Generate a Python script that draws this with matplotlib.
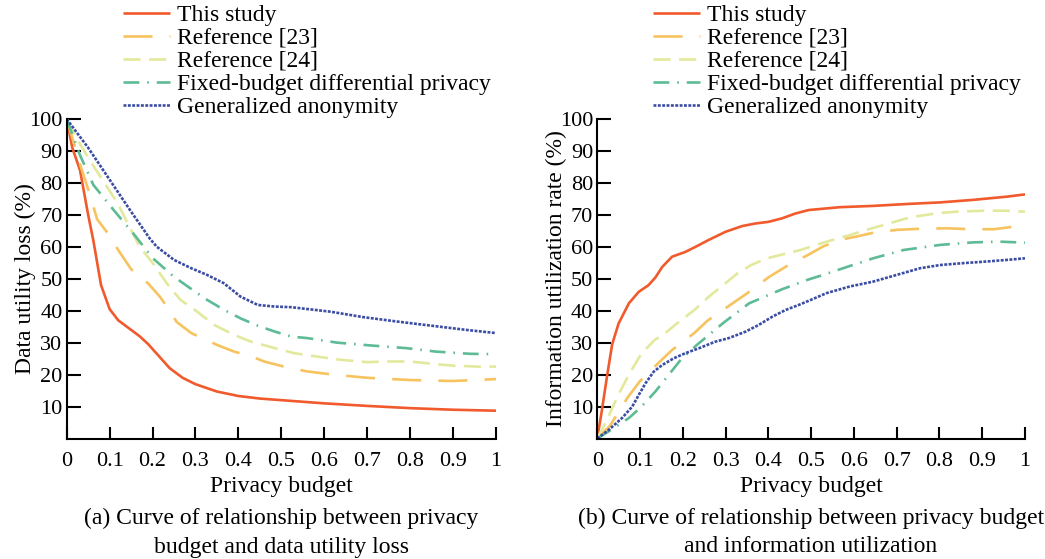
import matplotlib
matplotlib.use("Agg")
import matplotlib.pyplot as plt

plt.rcParams['font.family'] = ['Liberation Serif', 'DejaVu Serif']

# ---------------- data ----------------
series_names = ["This study", "Reference [23]", "Reference [24]",
                "Fixed-budget differential privacy", "Generalized anonymity"]

# (a) data utility loss
loss_study_x = [0, 0.013, 0.031, 0.05, 0.062, 0.08, 0.1, 0.12, 0.15, 0.17, 0.19, 0.21,
                0.24, 0.27, 0.3, 0.35, 0.4, 0.45, 0.5, 0.6, 0.7, 0.8, 0.9, 1.0]
loss_study_y = [100, 91, 84, 70, 62, 48, 40.5, 37, 34, 32, 29.5, 26.5,
                22, 19, 17, 14.7, 13.3, 12.5, 12, 11, 10.2, 9.5, 9, 8.7]

loss_ref23_x = [0, 0.033, 0.05, 0.071, 0.1, 0.12, 0.15, 0.19, 0.217, 0.235, 0.256, 0.29,
                0.35, 0.39, 0.43, 0.46, 0.5, 0.56, 0.62, 0.7, 0.8, 0.9, 1.0]
loss_ref23_y = [100, 85, 78, 68.6, 63.5, 59, 53, 48.5, 44.4, 41, 36.5, 33,
                29.3, 27.2, 25.7, 24.1, 22.7, 21, 20, 19, 18.3, 18, 18.6]

loss_ref24_x = [0, 0.023, 0.056, 0.1, 0.12, 0.145, 0.17, 0.2, 0.233, 0.265, 0.304, 0.343,
                0.39, 0.43, 0.484, 0.53, 0.58, 0.64, 0.7, 0.75, 0.8, 0.85, 0.9, 0.96, 1.0]
loss_ref24_y = [100, 94, 86.6, 77.5, 73.3, 66.6, 60, 55, 48.6, 43.4, 39.7, 35.6,
                32.4, 30.3, 28.3, 26.7, 25.7, 24.6, 23.9, 24.1, 24.1, 23.4, 22.8, 22.5, 22.5]

loss_fixed_x = [0, 0.03, 0.062, 0.1125, 0.155, 0.2, 0.249, 0.288, 0.327, 0.366, 0.405,
                0.445, 0.484, 0.523, 0.562, 0.63, 0.71, 0.79, 0.86, 0.94, 1.0]
loss_fixed_y = [100, 89, 79.4, 71, 64.2, 56.5, 50.7, 47, 43.4, 40.3, 37.6,
                35.3, 33.5, 31.9, 31.4, 30, 29.1, 28.3, 27.2, 26.5, 26.4]

loss_anon_x = [0, 0.05, 0.1, 0.15, 0.194, 0.21, 0.25, 0.29, 0.327, 0.366, 0.405, 0.445,
               0.484, 0.523, 0.562, 0.614, 0.69, 0.77, 0.85, 0.93, 1.0]
loss_anon_y = [100, 91, 81, 71, 62.5, 60, 55.9, 53.3, 51.2, 48.6, 44.4, 41.8,
               41.3, 41.1, 40.5, 39.7, 38, 36.6, 35.3, 34, 33]

# (b) information utilization rate
util_study_x = [0, 0.01, 0.023, 0.035, 0.05, 0.074, 0.097, 0.12, 0.136, 0.152, 0.175, 0.206,
                0.23, 0.26, 0.3, 0.339, 0.37, 0.4, 0.432, 0.463, 0.494, 0.567, 0.645,
                0.724, 0.802, 0.88, 0.958, 1.0]
util_study_y = [0, 8, 19.5, 29.5, 36, 42.3, 45.9, 48, 50.4, 53.7, 56.9, 58.4,
                60, 62.1, 64.7, 66.5, 67.3, 67.8, 68.9, 70.4, 71.5, 72.4, 72.8,
                73.4, 73.9, 74.7, 75.7, 76.4]

util_ref23_x = [0, 0.03, 0.07, 0.099, 0.142, 0.175, 0.226, 0.258, 0.311, 0.35, 0.402, 0.451,
                0.492, 0.528, 0.567, 0.606, 0.645, 0.7, 0.747, 0.817, 0.872, 0.927, 0.974, 1.0]
util_ref23_y = [0, 4, 12.6, 17.8, 23.5, 27.7, 32.9, 36.9, 41.8, 45.4, 50.6, 54.6,
                57.4, 60.1, 62.2, 63.2, 64.4, 65.3, 65.6, 65.8, 65.5, 65.5, 66.3, 67.5]

util_ref24_x = [0, 0.02, 0.047, 0.074, 0.103, 0.134, 0.161, 0.192, 0.227, 0.261, 0.29, 0.328,
                0.36, 0.397, 0.436, 0.475, 0.536, 0.591, 0.63, 0.684, 0.731, 0.794, 0.84,
                0.903, 0.958, 1.0]
util_ref24_y = [0, 5, 13, 20, 26.5, 30.8, 33.2, 36.6, 40.2, 44.4, 47.5, 51.7,
                54.3, 56.4, 57.7, 59, 61.6, 63.7, 65.3, 67.4, 69.2, 70.5, 71,
                71.3, 71.3, 71]

util_fixed_x = [0, 0.03, 0.074, 0.1, 0.136, 0.195, 0.233, 0.296, 0.355, 0.432, 0.49, 0.528,
                0.575, 0.645, 0.716, 0.802, 0.88, 0.942, 1.0]
util_fixed_y = [0, 2.5, 6.4, 9.5, 14.7, 24.6, 29.3, 36.3, 42.3, 46.7, 49.6, 51.2,
                53.3, 56.4, 59, 60.6, 61.4, 61.6, 61.3]

util_anon_x = [0, 0.027, 0.058, 0.082, 0.097, 0.113, 0.132, 0.152, 0.179, 0.206, 0.237,
               0.276, 0.307, 0.346, 0.377, 0.409, 0.44, 0.471, 0.498, 0.536, 0.591, 0.645,
               0.7, 0.755, 0.802, 0.857, 0.911, 0.958, 1.0]
util_anon_y = [0, 2.7, 6.4, 10, 13.6, 17.3, 20.9, 23, 25.1, 26.7, 28.2,
               30.3, 31.4, 33.4, 35.5, 38.1, 40.2, 41.8, 43.3, 45.5, 47.6, 49.1,
               51.2, 53.3, 54.3, 54.9, 55.4, 55.9, 56.4]

x_ticks = [0, 0.1, 0.2, 0.3, 0.4, 0.5, 0.6, 0.7, 0.8, 0.9, 1.0]
x_ticklabels = ["0", "0.1", "0.2", "0.3", "0.4", "0.5", "0.6", "0.7", "0.8", "0.9", "1"]
y_ticks = [10, 20, 30, 40, 50, 60, 70, 80, 90, 100]

# ---------------- styles ----------------
colors = ["#F05A2C", "#F6C35E", "#E3E99C", "#5DBB95", "#3A4CA3"]
styles = ["-", (0, (11, 6.5)), (0, (6.5, 3.2)), (0, (6, 3, 0.6, 3)), (0, (1.1, 0.55))]
LW = 1.9
FS_TICK = 16
FS = 17

W, H = 1045, 559
fig = plt.figure(figsize=(W / 100, H / 100), dpi=100)

def px_axes(x0, x1, ytop, ybot):
    return fig.add_axes([x0 / W, 1 - ybot / H, (x1 - x0) / W, (ybot - ytop) / H])

axL = px_axes(66.7, 496, 119, 438.5)
axR = px_axes(597.2, 1025, 119, 438.5)

left_data = [(loss_study_x, loss_study_y), (loss_ref23_x, loss_ref23_y),
             (loss_ref24_x, loss_ref24_y), (loss_fixed_x, loss_fixed_y),
             (loss_anon_x, loss_anon_y)]
right_data = [(util_study_x, util_study_y), (util_ref23_x, util_ref23_y),
              (util_ref24_x, util_ref24_y), (util_fixed_x, util_fixed_y),
              (util_anon_x, util_anon_y)]

for ax, data, ylabel, ylpad in [(axL, left_data, "Data utility loss (%)", -5),
                                (axR, right_data, "Information utilization rate (%)", -5)]:
    for (xs, ys), c, ls, name in zip(data, colors, styles, series_names):
        ax.plot(xs, ys, color=c, linestyle=ls, linewidth=LW, label=name,
                solid_capstyle='butt', dash_capstyle='butt')
    ax.set_xlim(0, 1)
    ax.set_ylim(0, 100)
    ax.set_xticks(x_ticks)
    ax.set_xticklabels(x_ticklabels)
    ax.set_yticks(y_ticks)
    for s in ["top", "right"]:
        ax.spines[s].set_visible(False)
    for s in ["left", "bottom"]:
        ax.spines[s].set_linewidth(1.5)
    ax.tick_params(axis='y', direction='in', length=10, width=1.5, labelsize=FS_TICK, pad=3)
    ax.tick_params(axis='x', direction='in', length=8.5, width=1.5, labelsize=FS_TICK, pad=9.5)
    ax.set_xlabel("Privacy budget", fontsize=FS, labelpad=4)
    ax.set_ylabel(ylabel, fontsize=FS, labelpad=ylpad)

# legends
for ax, text_x in [(axL, 177), (axR, 707)]:
    hl, htp = 2.0, 0.3
    fs_px = FS * 100 / 72
    start = text_x - (hl + htp) * fs_px
    fig.legend(*ax.get_legend_handles_labels(), loc='upper left',
               bbox_to_anchor=(start / W, 1 - 4.5 / H), bbox_transform=fig.transFigure,
               frameon=False, fontsize=FS, handlelength=hl, handletextpad=htp,
               labelspacing=0.06, borderpad=0, borderaxespad=0)

# captions
fig.text(281 / W, 1 - 518 / H, "(a) Curve of relationship between privacy",
         ha='center', va='center', fontsize=FS)
fig.text(281 / W, 1 - 547 / H, "budget and data utility loss",
         ha='center', va='center', fontsize=FS)
fig.text(811 / W, 1 - 518 / H, "(b) Curve of relationship between privacy budget",
         ha='center', va='center', fontsize=FS)
fig.text(811 / W, 1 - 547 / H, "and information utilization",
         ha='center', va='center', fontsize=FS)

fig.savefig("out.png", dpi=100)
